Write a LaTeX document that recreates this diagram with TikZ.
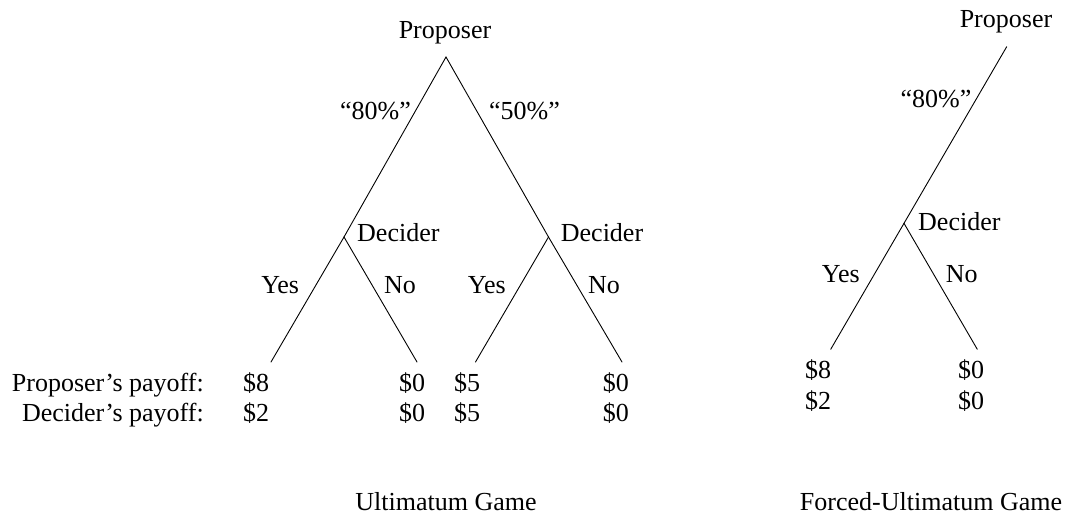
\documentclass[tikz,border=0pt]{standalone}
\usepackage{fontspec}
\setmainfont{Liberation Serif}
\begin{document}
\begin{tikzpicture}[x=1pt,y=-1pt,
  every node/.style={inner sep=0pt,font=\fontsize{26}{30}\selectfont},
  branch/.style={line width=0.9pt,line cap=round},
  lbl/.style={anchor=base},
  lblw/.style={anchor=base west},
  lble/.style={anchor=base east}]
\useasboundingbox (0,0) rectangle (1071,517);
% ---------- Ultimatum Game ----------
\coordinate (r1) at (446,57);
\coordinate (d1) at (344,237);
\coordinate (d2) at (548.5,237);
\coordinate (l1) at (271,362);
\coordinate (l2) at (417,362);
\coordinate (l3) at (475.5,362);
\coordinate (l4) at (622,362);
\draw[branch] (r1) -- (d1);
\draw[branch] (r1) -- (d2);
\draw[branch] (d1) -- (l1);
\draw[branch] (d1) -- (l2);
\draw[branch] (d2) -- (l3);
\draw[branch] (d2) -- (l4);
\node[lbl] (p1) at (445,38.3) {Proposer};
\node[lbl] (o80a) at (375.5,119) {“80\%”};
\node[lbl] (o50) at (524.5,119) {“50\%”};
\node[lblw] (dec1) at (357,241.7) {Decider};
\node[lblw] (dec2) at (560.7,241.7) {Decider};
\node[lble] (y1) at (299.3,293.3) {Yes};
\node[lblw] (n1) at (384,293.3) {No};
\node[lble] (y2) at (506,293.3) {Yes};
\node[lblw] (n2) at (588,293.3) {No};
\node[lble] (pp) at (204,391.7) {Proposer’s payoff:};
\node[lble] (dp) at (204,421.7) {Decider’s payoff:};
\node[lblw] (a1) at (243,391.7) {\$8};
\node[lblw] (b1) at (243,421.7) {\$2};
\node[lblw] (a2) at (399,391.7) {\$0};
\node[lblw] (b2) at (399,421.7) {\$0};
\node[lblw] (a3) at (454,391.7) {\$5};
\node[lblw] (b3) at (454,421.7) {\$5};
\node[lblw] (a4) at (602.7,391.7) {\$0};
\node[lblw] (b4) at (602.7,421.7) {\$0};
\node[lbl] (cap1) at (446,510) {Ultimatum Game};
% ---------- Forced-Ultimatum Game ----------
\coordinate (r2) at (1006.7,46.7);
\coordinate (d3) at (904,223.3);
\coordinate (l5) at (830.7,349.3);
\coordinate (l6) at (977.3,349.3);
\draw[branch] (r2) -- (d3);
\draw[branch] (d3) -- (l5);
\draw[branch] (d3) -- (l6);
\node[lbl] (p2) at (1006,27) {Proposer};
\node[lbl] (o80b) at (936,107) {“80\%”};
\node[lblw] (dec3) at (918,230) {Decider};
\node[lble] (y3) at (860,282.7) {Yes};
\node[lblw] (n3) at (945.7,282.7) {No};
\node[lblw] (a5) at (805,378.3) {\$8};
\node[lblw] (b5) at (805,409.7) {\$2};
\node[lblw] (a6) at (958,378.3) {\$0};
\node[lblw] (b6) at (958,409.7) {\$0};
\node[lbl] (cap2) at (931,510) {Forced-Ultimatum Game};
\end{tikzpicture}
\end{document}
